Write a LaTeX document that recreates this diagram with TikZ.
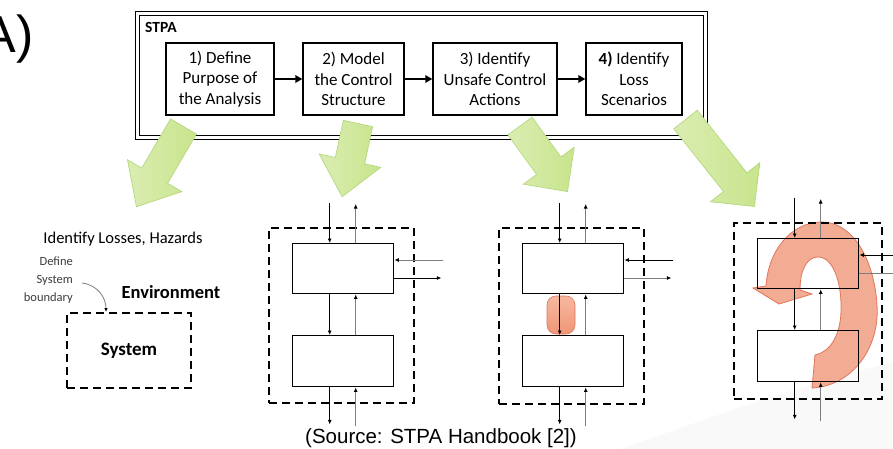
\documentclass[tikz,border=0pt]{standalone}
\usepackage{fontspec}
\setmainfont{Carlito}
\newfontfamily\arialf{Liberation Sans}
\usetikzlibrary{arrows.meta,calc}

\definecolor{gfill}{RGB}{200,228,140}
\definecolor{glight}{RGB}{218,237,178}
\definecolor{gedge}{RGB}{178,213,118}
\definecolor{ofill}{RGB}{240,150,118}
\definecolor{olight}{RGB}{246,184,160}
\definecolor{oedge}{RGB}{222,118,92}
\definecolor{fbgray}{RGB}{125,125,125}
\definecolor{notegray}{RGB}{60,60,60}

\tikzset{
  stepbox/.style={draw, line width=1.4pt, inner sep=0pt, align=center,
    minimum height=72pt, font=\fontsize{17}{20.5}\selectfont},
  flowarrow/.style={line width=2.4pt, -{Triangle[length=7pt,width=7.5pt]}},
  blockbox/.style={draw, line width=1.4pt, minimum width=101pt,
    minimum height=50pt, inner sep=0pt, anchor=north west},
  boundary/.style={draw, line width=2pt, dash pattern=on 8pt off 5pt,
    inner sep=0pt},
  ctl/.style={line width=0.9pt, -{Latex[length=4.5pt,width=4pt]}},
  fb/.style={line width=0.9pt, draw=fbgray, -{Latex[length=4.5pt,width=4pt,color=black]}},
  greenblock/.style={draw=gedge, line width=0.6pt, left color=glight, right color=gfill},
}

% block arrow: start (#1,#2), direction #3, shaft length #4, head length #5
\newcommand\greenarrow[5]{%
  \begin{scope}[shift={(#1,#2)}, rotate=#3]
    \path[greenblock] (0,-15) -- (#4,-15) -- (#4,-31.5) -- ({#4+#5},0)
      -- (#4,31.5) -- (#4,15) -- (0,15) -- cycle;
  \end{scope}}

% control structure: name prefix, frame corner (x,y), frame width, frame height,
% style of the incoming and outgoing side arrows
\newcommand\ctrlpanel[7]{%
  \node[boundary, anchor=north west, minimum width=#4pt, minimum height=#5pt]
    (#1frame) at (#2,#3) {};
  \node[blockbox] (#1u) at ({#2+24},{#3+16}) {};
  \node[blockbox, minimum height=51pt] (#1l) at ({#2+24},{#3+108}) {};
  \draw[ctl] ([xshift=-13.5pt,yshift=40pt]#1u.north) -- ([xshift=-13.5pt]#1u.north);
  \draw[fb] ([xshift=12.5pt]#1u.north) -- ([xshift=12.5pt,yshift=39pt]#1u.north);
  \draw[ctl] ([xshift=-13.5pt]#1u.south) -- ([xshift=-13.5pt]#1l.north);
  \draw[fb] ([xshift=12.5pt]#1l.north) -- ([xshift=12.5pt]#1u.south);
  \draw[ctl] ([xshift=-13.5pt]#1l.south) -- ([xshift=-13.5pt,yshift=-37pt]#1l.south);
  \draw[fb] ([xshift=12.5pt,yshift=-39pt]#1l.south) -- ([xshift=12.5pt]#1l.south);
  \draw[#6] ([xshift=49pt,yshift=-17pt]#1u.north east) -- ([yshift=-17pt]#1u.north east);
  \draw[#7] ([yshift=-35pt]#1u.north east) -- ([xshift=47pt,yshift=-35pt]#1u.north east);
}

\begin{document}
\begin{tikzpicture}[x=1pt, y=-1pt]
  \clip (0,0) rectangle (893,449);
  \fill[white] (0,0) rectangle (893,449);

  % faint backdrop swoosh
  \fill[gray!5] (620,449) .. controls (710,418) and (800,385) .. (893,362)
    -- (893,449) -- cycle;

  % the STPA process frame
  \node[draw, double=white, line width=1.4pt, double distance=2.2pt,
        minimum width=568pt, minimum height=124pt, inner sep=0pt]
        (stpa) at (421.5,75.5) {};
  \node[anchor=west, font=\fontsize{15.5}{18}\selectfont\bfseries, inner sep=0pt]
        (stpalabel) at (145,27) {STPA};

  \node[stepbox, minimum width=108pt] (s1) at (220,79) {1) Define\\Purpose of\\the Analysis};
  \node[stepbox, minimum width=101pt] (s2) at (353.5,79) {2) Model\\the Control\\Structure};
  \node[stepbox, minimum width=124pt] (s3) at (495,79) {3) Identify\\Unsafe Control\\Actions};
  \node[stepbox, minimum width=96pt]  (s4) at (634,79) {\textbf{4)} Identify\\Loss\\Scenarios};

  \draw[flowarrow] (s1) -- (s2);
  \draw[flowarrow] (s2) -- (s3);
  \draw[flowarrow] (s3) -- (s4);

  % block arrows from each step down to its result
  \greenarrow{183.5}{126.5}{-120.4}{57}{36}
  \greenarrow{358}{123.5}{-102.2}{38}{37}
  \greenarrow{520}{126}{-54.1}{49}{32}
  \greenarrow{685.5}{119.5}{-51.6}{80}{31}

  % step 1: losses, hazards and the system boundary
  \node[font=\fontsize{16.5}{19}\selectfont] (losses) at (123,239) {Identify Losses, Hazards};
  \node[anchor=east, align=right, text=notegray, inner sep=0pt,
        font=\fontsize{12.5}{18}\selectfont] (bnd) at (73,280) {Define\\System\\boundary};
  \node[font=\fontsize{18.5}{22}\selectfont\bfseries] (env) at (171,292) {Environment};
  \node[boundary, minimum width=124pt, minimum height=75pt,
        font=\fontsize{19}{22}\selectfont\bfseries] (sys) at (129,350.5) {System};
  \draw[draw=fbgray, line width=0.8pt, -{Latex[length=4pt,width=3.5pt,color=black]}]
    ([xshift=9pt,yshift=-3pt]bnd.east) .. controls +(16,2) and +(0,-14) ..
    ([xshift=-23pt]sys.north);

  % step 2: control structure
  \ctrlpanel{cs}{268}{227}{145}{175}{fb}{ctl}

  % step 3: unsafe control action
  \node[draw=oedge, line width=0.6pt, rounded corners=9pt, top color=olight,
        bottom color=ofill, minimum width=28pt, minimum height=38pt, inner sep=0pt]
        (uca) at (561,315) {};
  \ctrlpanel{ua}{498}{227}{145}{176}{ctl}{fb}

  % step 4: loss scenarios, a curved arrow around the loop
  \path[draw=oedge, line width=0.8pt, fill=ofill!85!white, fill opacity=0.92]
    (812,388) .. controls (852,386) and (880,348) .. (877,305)
    .. controls (874,258) and (852,222) .. (822,222)
    .. controls (790,222) and (768,252) .. (766,286)
    -- (753,288) -- (779,304) -- (812,294) -- (800,290)
    .. controls (800,268) and (808,257) .. (818,257)
    .. controls (833,257) and (842,282) .. (841,312)
    .. controls (840,336) and (830,352) .. (815,355)
    -- cycle;
  \ctrlpanel{ls}{733}{222}{148}{176}{ctl}{fb}

  % source note and panel letter
  \node[font=\arialf\fontsize{20.5}{24}\selectfont] (src) at (441,438) {(Source: STPA Handbook [2])};
  \node[anchor=base east, font=\arialf\fontsize{52}{60}\selectfont, inner sep=0pt]
        (letter) at (34,53) {A)};
\end{tikzpicture}
\end{document}
